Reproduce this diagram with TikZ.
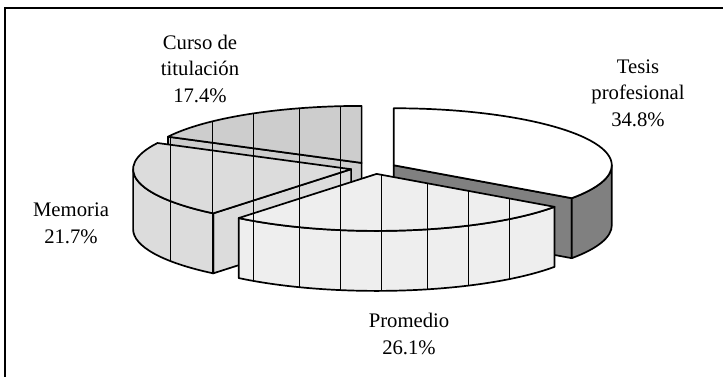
\documentclass[tikz,border=0pt]{standalone}
\usepackage{fontspec}
\setmainfont{Liberation Serif}
\usetikzlibrary{calc}
\definecolor{cursofill}{HTML}{CDCDCD}
\definecolor{memfill}{HTML}{DCDCDC}
\definecolor{promfill}{HTML}{EEEEEE}
\definecolor{sidegray}{HTML}{808080}
\newcommand\mygridlines{\foreach \gx in {170,212,253,299,340,381,427,468,509} \draw[gridline] (\gx,0) -- (\gx,-376);}
\newcommand\mypieface[2]{%
  \fill[#1] #2;
  \begin{scope}\clip #2; \mygridlines\end{scope}
  \draw[edge] #2;}
\begin{document}
\begin{tikzpicture}[x=1pt,y=1pt,
  edge/.style={draw=black, line width=1.7pt, line join=round},
  gridline/.style={draw=black, line width=0.9pt},
  lbl/.style={font=\fontsize{20.7}{26.5}\selectfont, align=center, anchor=base, inner sep=0pt},
  er/.style={x radius=218, y radius=57}]
\useasboundingbox (0,0) rectangle (723,-376);
\clip (0,0) rectangle (723,-376);
\draw[line width=2pt] (5,-8) rectangle (740,-400);
% slice centres
\coordinate (cT) at (393.8,-165.25);
\coordinate (cP) at (376.6,-173.9);
\coordinate (cM) at (351.1,-169.2);
\coordinate (cC) at (361.6,-162.9);
% Curso de titulacion
\mypieface{cursofill}{(cC) -- ++(152.64:218 and 57) -- ++(0,-60) -- ($(cC)+(0,-60)$) -- cycle}
\mypieface{cursofill}{(cC) -- ++(152.64:218 and 57) arc[start angle=152.64, end angle=90, er] -- cycle}
% Tesis profesional
\filldraw[fill=sidegray, edge] (cT) -- ++(-35.28:218 and 57) -- ++(0,-60) -- ($(cT)+(0,-60)$) -- cycle;
\filldraw[fill=sidegray, edge] ($(cT)+(0:218 and 57)$) arc[start angle=0, end angle=-35.28, er] -- ++(0,-60) arc[start angle=-35.28, end angle=0, er] -- cycle;
\filldraw[fill=white, edge] (cT) -- ++(90:218 and 57) arc[start angle=90, end angle=-35.28, er] -- cycle;
% Memoria
\mypieface{memfill}{(cM) -- ++(-129.24:218 and 57) -- ++(0,-60) -- ($(cM)+(0,-60)$) -- cycle}
\mypieface{memfill}{($(cM)+(-129.24:218 and 57)$) arc[start angle=-129.24, end angle=-180, er] -- ++(0,-60) arc[start angle=-180, end angle=-129.24, er] -- cycle}
\mypieface{memfill}{(cM) -- ++(-129.24:218 and 57) arc[start angle=-129.24, end angle=-207.36, er] -- cycle}
% Promedio
\mypieface{promfill}{($(cP)+(-35.28:218 and 57)$) arc[start angle=-35.28, end angle=-129.24, er] -- ++(0,-60) arc[start angle=-129.24, end angle=-35.28, er] -- cycle}
\mypieface{promfill}{(cP) -- ++(-35.28:218 and 57) arc[start angle=-35.28, end angle=-129.24, er] -- cycle}
% labels (anchor base = last line baseline)
\node[lbl] (lc) at (200,-102) {Curso de\\titulación\\17.4\%};
\node[lbl] (lt) at (638,-126) {Tesis\\profesional\\34.8\%};
\node[lbl] (lm) at (71,-243) {Memoria\\21.7\%};
\node[lbl] (lp) at (409,-354) {Promedio\\26.1\%};
\end{tikzpicture}
\end{document}
